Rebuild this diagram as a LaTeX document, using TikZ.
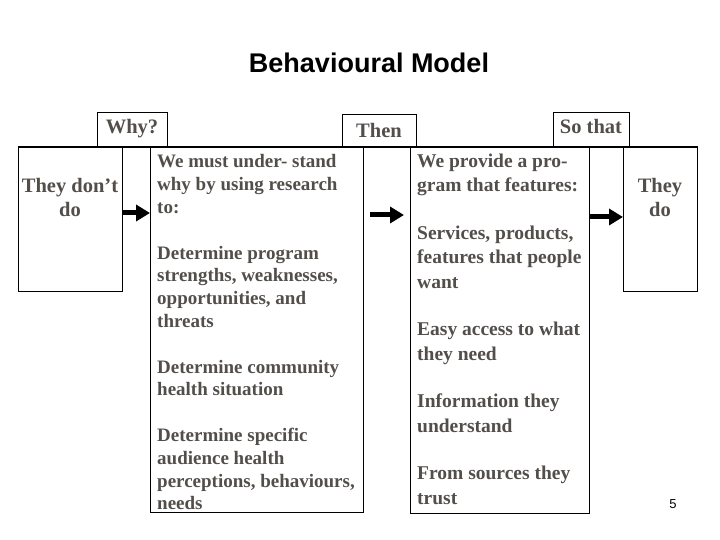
\documentclass[tikz,border=0pt]{standalone}
\usepackage{fontspec}
\setmainfont{Liberation Serif}
\newfontfamily\arialfont{Liberation Sans}
\usetikzlibrary{arrows.meta}
\definecolor{txtgray}{RGB}{82,78,74}
\begin{document}
\begin{tikzpicture}[x=1pt,y=-1pt,
  box/.style={draw=black, line width=1pt, inner sep=0pt, anchor=north west},
  lbl/.style={inner sep=0pt, text=txtgray, font=\bfseries\fontsize{19}{22}\selectfont},
  big/.style={font=\bfseries\fontsize{20.5}{24}\selectfont},
  bigarrow/.style={line width=5pt, -{Triangle[length=14pt,width=16pt]}}]
\useasboundingbox (0,0) rectangle (720,540);
% title
\node[anchor=base, inner sep=0pt, font=\arialfont\bfseries\fontsize{27}{32}\selectfont] (title) at (369,73) {Behavioural Model};
% tabs
\node[box, minimum width=70pt, minimum height=35pt] (why) at (97,112) {};
\node[box, minimum width=74pt, minimum height=33pt] (then) at (342,114) {};
\node[box, minimum width=76pt, minimum height=35pt] (so) at (553,112) {};
\node[lbl, big, anchor=base] (whyt) at (132,134) {Why?};
\node[lbl, big, anchor=base] (thent) at (379,138) {Then};
\node[lbl, big, anchor=base] (sot) at (591,134) {So that};
% boxes
\node[box, minimum width=104pt, minimum height=144pt] (A) at (18,147) {};
\node[box, minimum width=213pt, minimum height=365pt] (B) at (150,147) {};
\node[box, minimum width=179pt, minimum height=366pt] (D) at (410,147) {};
\node[box, minimum width=74pt, minimum height=144pt] (F) at (623,147) {};
\draw[line width=1pt] (A.north west) -- (F.north east);
% texts
\node[lbl, big, anchor=base] (a1) at (70,193) {They don’t};
\node[lbl, big, anchor=base] (a2) at (70,217) {do};
\node[lbl, big, anchor=base] (f1) at (660,193) {They};
\node[lbl, big, anchor=base] (f2) at (660,217) {do};
\node[lbl, anchor=base west] (btext) at (157,168) {\vtop{\baselineskip=22.8pt
  \hbox{We must under- stand}
  \hbox{why by using research}
  \hbox{to:}
  \hbox{}
  \hbox{Determine program}
  \hbox{strengths, weaknesses,}
  \hbox{opportunities, and}
  \hbox{threats}
  \hbox{}
  \hbox{Determine community}
  \hbox{health situation}
  \hbox{}
  \hbox{Determine specific}
  \hbox{audience health}
  \hbox{perceptions, behaviours,}
  \hbox{needs}}};
\node[lbl, anchor=base west, font=\bfseries\fontsize{19.5}{24}\selectfont] (dtext) at (417,168) {\vtop{\baselineskip=24pt
  \hbox{We provide a pro-}
  \hbox{gram that features:}
  \hbox{}
  \hbox{Services, products,}
  \hbox{features that people}
  \hbox{want}
  \hbox{}
  \hbox{Easy access to what}
  \hbox{they need}
  \hbox{}
  \hbox{Information they}
  \hbox{understand}
  \hbox{}
  \hbox{From sources they}
  \hbox{trust}}};
% page number
\node[anchor=base, inner sep=0pt, font=\arialfont\fontsize{13}{15}\selectfont] (pg) at (673,508) {5};
% arrows
\coordinate (ar1) at (0,213);
\coordinate (ar3) at (0,217);
\coordinate (ar2s) at (370,215);
\coordinate (ar2e) at (404,215);
\draw[bigarrow] (A.east |- ar1) -- (B.west |- ar1);
\draw[bigarrow] (ar2s) -- (ar2e);
\draw[bigarrow] (D.east |- ar3) -- (F.west |- ar3);
\end{tikzpicture}
\end{document}
